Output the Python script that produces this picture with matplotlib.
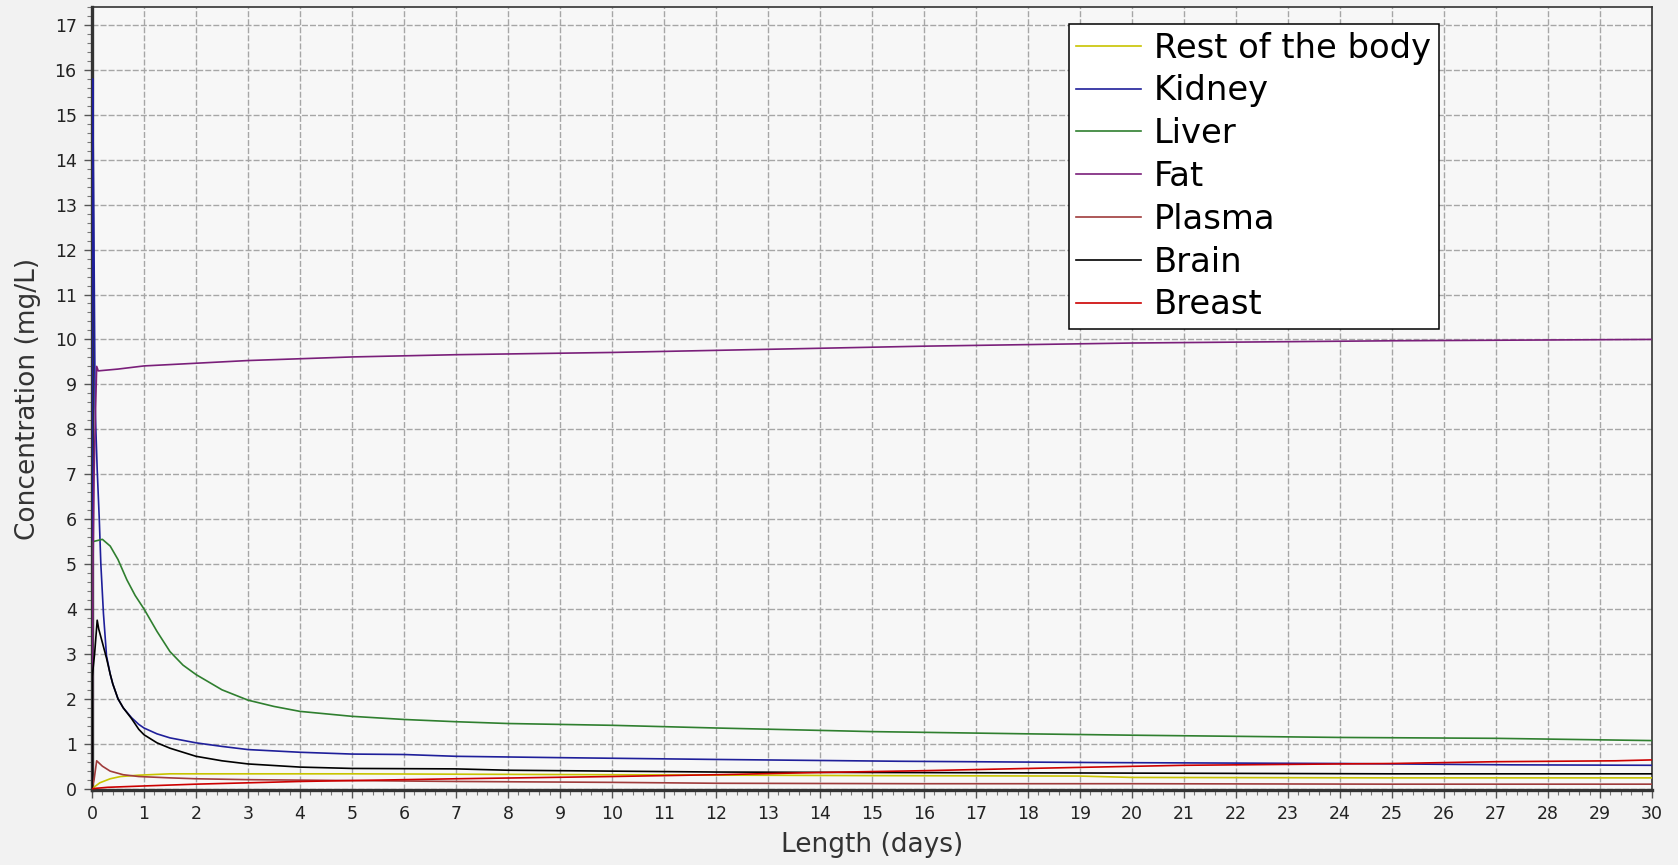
import matplotlib
matplotlib.use('Agg')
import matplotlib.pyplot as plt
from matplotlib.ticker import MultipleLocator

# concentration-time profiles per compartment (days, mg/L)
rest_t = [0, 0.15, 0.35, 0.55, 0.9, 1.5, 3, 5, 10, 15, 19, 20, 25, 30]
rest_c = [0, 0.13, 0.22, 0.27, 0.30, 0.33, 0.33, 0.33, 0.31, 0.29, 0.28, 0.25, 0.24, 0.24]

kidney_t = [0, 0.012, 0.035, 0.06, 0.1, 0.14, 0.17, 0.22, 0.28, 0.35, 0.4, 0.5, 0.6, 0.76,
            0.9, 1, 1.25, 1.5, 2, 2.5, 3, 4, 5, 6, 7, 9, 12, 15.5, 19.5, 24, 27.3, 30]
kidney_c = [0, 15.8, 12.7, 8.5, 7.1, 6.0, 5.0, 3.9, 2.95, 2.55, 2.33, 2.0, 1.8, 1.58,
            1.43, 1.35, 1.22, 1.13, 1.02, 0.94, 0.87, 0.81, 0.77, 0.76, 0.72, 0.69, 0.65,
            0.61, 0.58, 0.56, 0.53, 0.52]

liver_t = [0, 0.02, 0.2, 0.35, 0.5, 0.67, 0.83, 1, 1.25, 1.5, 1.75, 2, 2.5, 3, 3.5, 4, 5, 6,
           7, 8, 10, 12, 15, 18, 20, 24, 27, 30]
liver_c = [0, 5.5, 5.55, 5.4, 5.1, 4.65, 4.3, 4.0, 3.5, 3.05, 2.75, 2.54, 2.2, 1.97, 1.83,
           1.72, 1.61, 1.54, 1.49, 1.45, 1.41, 1.35, 1.27, 1.22, 1.19, 1.14, 1.12, 1.07]

fat_t = [0, 0.02, 0.04, 0.07, 0.09, 0.12, 0.5, 1, 2, 3, 4, 5, 7, 10, 13, 16, 20, 25, 30]
fat_c = [0, 5.0, 7.0, 8.5, 9.4, 9.3, 9.34, 9.41, 9.47, 9.53, 9.57, 9.61, 9.66, 9.71, 9.78,
         9.85, 9.92, 9.97, 10.0]

plasma_t = [0, 0.04, 0.09, 0.2, 0.35, 0.6, 0.9, 1.5, 2, 3, 5, 7, 10, 12, 16, 20, 25, 30]
plasma_c = [0, 0.2, 0.62, 0.5, 0.39, 0.31, 0.27, 0.24, 0.22, 0.2, 0.18, 0.16, 0.14, 0.12,
            0.11, 0.11, 0.1, 0.1]

brain_t = [0, 0.005, 0.05, 0.1, 0.13, 0.2, 0.28, 0.35, 0.4, 0.5, 0.6, 0.76, 0.9, 1, 1.25,
           1.5, 2, 2.5, 3, 4, 5, 7, 8, 10, 12, 15, 18.7, 25, 30]
brain_c = [0, 2.5, 3.0, 3.75, 3.55, 3.25, 2.9, 2.55, 2.33, 2.0, 1.8, 1.56, 1.32, 1.2, 1.02,
           0.9, 0.72, 0.62, 0.55, 0.48, 0.45, 0.44, 0.41, 0.39, 0.37, 0.36, 0.35, 0.33, 0.33]

breast_t = [0, 0.3, 1, 2, 3, 4, 5, 7, 10, 12, 14, 16, 18, 21, 25, 27, 29.3, 30]
breast_c = [0, 0.03, 0.06, 0.1, 0.13, 0.16, 0.18, 0.22, 0.27, 0.31, 0.36, 0.4, 0.45, 0.52,
            0.56, 0.6, 0.62, 0.64]

series = [
    ('Rest of the body', rest_t, rest_c, '#c8c400'),
    ('Kidney', kidney_t, kidney_c, '#1f1f9a'),
    ('Liver', liver_t, liver_c, '#2f7f2f'),
    ('Fat', fat_t, fat_c, '#7a1f7a'),
    ('Plasma', plasma_t, plasma_c, '#a03c3c'),
    ('Brain', brain_t, brain_c, '#000000'),
    ('Breast', breast_t, breast_c, '#cc0000'),
]

fig = plt.figure(figsize=(16.78, 8.65), dpi=100, facecolor='#f2f2f2')
ax = fig.add_axes([92 / 1678, 75 / 865, 1560 / 1678, 783 / 865])
ax.set_facecolor('#f7f7f7')

for name, t, c, col in series:
    ax.plot(t, c, color=col, lw=1.2, label=name, zorder=3)

ax.set_xlim(0, 30)
ax.set_ylim(-0.03, 17.4)
ax.xaxis.set_major_locator(MultipleLocator(1))
ax.xaxis.set_minor_locator(MultipleLocator(0.2))
ax.yaxis.set_major_locator(MultipleLocator(1))
ax.yaxis.set_minor_locator(MultipleLocator(0.2))

ax.grid(which='major', color='#a6a6a6', linestyle=(0, (4.3, 1.5)), lw=1.0, zorder=1)
ax.tick_params(which='major', length=6, width=1, color='#555555', labelsize=12.5,
               labelcolor='#222222', pad=5)
ax.tick_params(which='minor', length=3.5, width=0.8, color='#777777')

for side in ('left', 'bottom'):
    ax.spines[side].set_linewidth(2.4)
    ax.spines[side].set_color('#333333')
for side in ('top', 'right'):
    ax.spines[side].set_linewidth(1.2)
    ax.spines[side].set_color('#333333')

ax.set_xlabel('Length (days)', fontsize=19, color='#333333', labelpad=6)
ax.set_ylabel('Concentration (mg/L)', fontsize=19, color='#333333', labelpad=10)

leg = ax.legend(loc='upper left', bbox_to_anchor=(0.6263, 0.978), fontsize=24.3,
                frameon=True, fancybox=False, edgecolor='black', facecolor='white',
                framealpha=1, borderaxespad=0, borderpad=0.22, labelspacing=0.29,
                handlelength=1.9, handletextpad=0.4)
leg.get_frame().set_linewidth(1.1)
for line in leg.get_lines():
    line.set_linewidth(1.2)

fig.savefig('out.png', dpi=100, facecolor=fig.get_facecolor())
